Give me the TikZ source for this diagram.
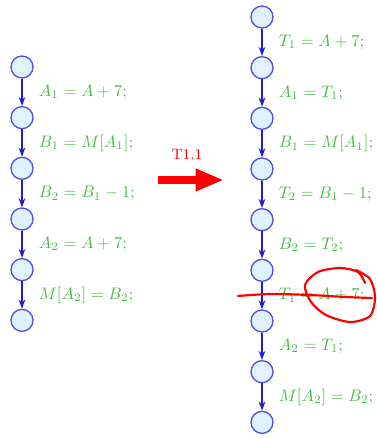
\documentclass[tikz,border=0pt]{standalone}
\usepackage{amsmath}
\usepackage{tikz}
\usetikzlibrary{arrows.meta, positioning}
\definecolor{stmtgreen}{RGB}{70,185,70}
\definecolor{nodefill}{RGB}{225,242,255}
\definecolor{nodeline}{RGB}{80,80,225}
\definecolor{edgeblue}{RGB}{30,30,210}

\begin{document}
\begin{tikzpicture}[x=0.6pt,y=-0.6pt,
 node distance=16.4pt,
 cfgnode/.style={circle,draw=nodeline,fill=nodefill,line width=0.8pt,
   minimum size=13.2pt,inner sep=0pt},
 flow/.style={-{Stealth[length=5.5pt,width=4pt]},edgeblue,line width=0.7pt},
 lbl/.style={right,xshift=6.5pt,text=stmtgreen,font=\normalsize},
 every node/.style={font=\normalsize}]
 \useasboundingbox (0,0) rectangle (376,438);
 % original program
 \node[cfgnode] (l0) at (22,67) {};
 \node[cfgnode,below=of l0] (l1) {};
 \node[cfgnode,below=of l1] (l2) {};
 \node[cfgnode,below=of l2] (l3) {};
 \node[cfgnode,below=of l3] (l4) {};
 \node[cfgnode,below=of l4] (l5) {};
 \draw[flow] (l0) -- node[lbl]{\(A_1 = A + 7;\)} (l1);
 \draw[flow] (l1) -- node[lbl]{\(B_1 = M[A_1];\)} (l2);
 \draw[flow] (l2) -- node[lbl]{\(B_2 = B_1 - 1;\)} (l3);
 \draw[flow] (l3) -- node[lbl]{\(A_2 = A + 7;\)} (l4);
 \draw[flow] (l4) -- node[lbl]{\(M[A_2] = B_2;\)} (l5);
 % transformation T1.1
 \coordinate (tfrom) at (158,180);
 \coordinate (tto) at (224,180);
 \node[text=red,font=\small] (tname) at (187,154) {T1.1};
 \draw[-{Triangle[length=17pt,width=12.5pt]},red,line width=5pt]
   (tfrom) -- (tto);
 % transformed program
 \node[cfgnode] (r0) at (262,17) {};
 \node[cfgnode,below=of r0] (r1) {};
 \node[cfgnode,below=of r1] (r2) {};
 \node[cfgnode,below=of r2] (r3) {};
 \node[cfgnode,below=of r3] (r4) {};
 \node[cfgnode,below=of r4] (r5) {};
 \node[cfgnode,below=of r5] (r6) {};
 \node[cfgnode,below=of r6] (r7) {};
 \node[cfgnode,below=of r7] (r8) {};
 \draw[flow] (r0) -- node[lbl]{\(T_1 = A + 7;\)} (r1);
 \draw[flow] (r1) -- node[lbl]{\(A_1 = T_1;\)} (r2);
 \draw[flow] (r2) -- node[lbl]{\(B_1 = M[A_1];\)} (r3);
 \draw[flow] (r3) -- node[lbl]{\(T_2 = B_1 - 1;\)} (r4);
 \draw[flow] (r4) -- node[lbl]{\(B_2 = T_2;\)} (r5);
 \draw[flow] (r5) -- node[lbl] (dead) {\(T_1 = A + 7;\)} (r6);
 \draw[flow] (r6) -- node[lbl]{\(A_2 = T_1;\)} (r7);
 \draw[flow] (r7) -- node[lbl]{\(M[A_2] = B_2;\)} (r8);
 % hand-drawn strike-out
 \draw[red,line width=1.3pt,line cap=round]
   plot[smooth] coordinates {(238,296) (270,294) (310,295) (345,297) (372,298)};
 \draw[red,line width=1.3pt,line cap=round]
   plot[smooth] coordinates {(365,283) (358,272) (340,268) (318,272) (305,285)
     (311,302) (326,315) (350,322) (370,316) (375,297) (370,279) (356,270)};
\end{tikzpicture}
\end{document}
